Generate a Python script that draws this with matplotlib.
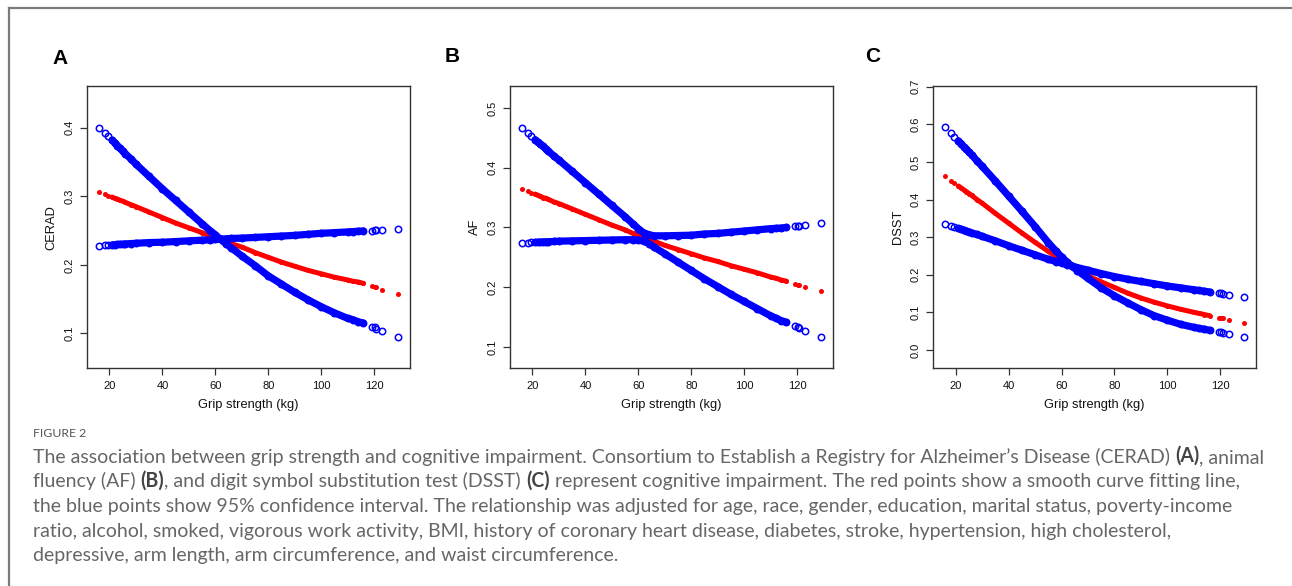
import matplotlib
matplotlib.use("Agg")
import matplotlib.pyplot as plt
from matplotlib.lines import Line2D

# grip strength values where the fitted curve is evaluated
grip = [16, 18.2, 19.5, 21, 22, 23, 24, 25, 26, 28, 30, 35, 40, 45, 50, 55, 58, 60,
        62, 64, 66, 70, 75, 80, 85, 90, 95, 100, 105, 110, 112, 114, 116,
        119.4, 120.2, 120.9, 123.2, 129]

# A: CERAD
cerad_fit = [0.307, 0.303, 0.301, 0.299, 0.297, 0.296, 0.294, 0.293, 0.291, 0.288, 0.285,
             0.277, 0.269, 0.261, 0.254, 0.247, 0.242, 0.240, 0.237, 0.234, 0.231, 0.226,
             0.218, 0.211, 0.204, 0.198, 0.192, 0.187, 0.182, 0.178, 0.176, 0.175, 0.173,
             0.169, 0.168, 0.167, 0.164, 0.158]
cerad_hi = [0.400, 0.392, 0.388, 0.382, 0.378, 0.374, 0.370, 0.366, 0.362, 0.355, 0.347,
            0.329, 0.311, 0.294, 0.277, 0.260, 0.250, 0.244, 0.237, 0.231, 0.225, 0.213,
            0.199, 0.184, 0.172, 0.160, 0.149, 0.139, 0.130, 0.122, 0.120, 0.117, 0.115,
            0.110, 0.109, 0.107, 0.104, 0.095]
cerad_lo = [0.228, 0.2285, 0.229, 0.229, 0.2295, 0.2297, 0.230, 0.230, 0.2305, 0.231, 0.2315,
            0.2325, 0.233, 0.234, 0.235, 0.236, 0.2365, 0.237, 0.2375, 0.238, 0.2385, 0.239,
            0.240, 0.241, 0.242, 0.243, 0.2445, 0.246, 0.247, 0.248, 0.2485, 0.249, 0.2495,
            0.250, 0.2505, 0.251, 0.2515, 0.253]

# B: AF
af_fit = [0.365, 0.361, 0.358, 0.356, 0.354, 0.352, 0.350, 0.349, 0.347, 0.343, 0.340,
          0.331, 0.322, 0.313, 0.304, 0.296, 0.290, 0.287, 0.283, 0.280, 0.277, 0.270,
          0.263, 0.256, 0.249, 0.243, 0.236, 0.230, 0.224, 0.217, 0.215, 0.212, 0.210,
          0.205, 0.204, 0.203, 0.201, 0.194]
af_hi = [0.466, 0.458, 0.453, 0.447, 0.443, 0.440, 0.436, 0.432, 0.428, 0.420, 0.413,
         0.394, 0.375, 0.356, 0.337, 0.318, 0.306, 0.298, 0.291, 0.288, 0.286, 0.286,
         0.2865, 0.287, 0.289, 0.290, 0.292, 0.294, 0.296, 0.298, 0.2985, 0.299, 0.300,
         0.302, 0.302, 0.303, 0.304, 0.307]
af_lo = [0.274, 0.2745, 0.275, 0.275, 0.2752, 0.2755, 0.2757, 0.276, 0.276, 0.2765, 0.277,
         0.2775, 0.278, 0.2785, 0.279, 0.2795, 0.2795, 0.279, 0.277, 0.273, 0.267, 0.256,
         0.242, 0.228, 0.214, 0.201, 0.188, 0.176, 0.164, 0.152, 0.148, 0.144, 0.141,
         0.135, 0.133, 0.132, 0.127, 0.117]

# C: DSST
dsst_fit = [0.462, 0.450, 0.443, 0.436, 0.431, 0.426, 0.421, 0.416, 0.411, 0.400, 0.390,
            0.363, 0.337, 0.311, 0.286, 0.262, 0.248, 0.238, 0.229, 0.220, 0.212, 0.197,
            0.181, 0.166, 0.151, 0.138, 0.127, 0.117, 0.108, 0.100, 0.097, 0.094, 0.091,
            0.086, 0.085, 0.084, 0.080, 0.072]
dsst_hi = [0.592, 0.577, 0.567, 0.556, 0.549, 0.541, 0.534, 0.526, 0.519, 0.503, 0.488,
           0.449, 0.409, 0.369, 0.328, 0.285, 0.262, 0.247, 0.234, 0.222, 0.211, 0.190,
           0.165, 0.144, 0.125, 0.107, 0.091, 0.079, 0.068, 0.060, 0.057, 0.055, 0.052,
           0.048, 0.047, 0.046, 0.043, 0.035]
dsst_lo = [0.335, 0.330, 0.327, 0.323, 0.321, 0.318, 0.316, 0.314, 0.311, 0.307, 0.302,
           0.290, 0.277, 0.265, 0.253, 0.241, 0.235, 0.231, 0.227, 0.223, 0.219, 0.212,
           0.203, 0.195, 0.188, 0.182, 0.176, 0.170, 0.165, 0.160, 0.158, 0.156, 0.154,
           0.150, 0.150, 0.149, 0.147, 0.142]

panels = [
    ("A", "CERAD", cerad_fit, cerad_hi, cerad_lo, [0.1, 0.2, 0.3, 0.4], (0.049, 0.461)),
    ("B", "AF", af_fit, af_hi, af_lo, [0.1, 0.2, 0.3, 0.4, 0.5], (0.064, 0.537)),
    ("C", "DSST", dsst_fit, dsst_hi, dsst_lo, [0.0, 0.1, 0.2, 0.3, 0.4, 0.5, 0.6, 0.7], (-0.049, 0.702)),
]
x_ticks = [20, 40, 60, 80, 100, 120]

caption_lines = [
    [("The association between grip strength and cognitive impairment. Consortium to Establish a Registry for Alzheimer\u2019s Disease (CERAD) ", False),
     ("(A)", True), (", animal", False)],
    [("fluency (AF) ", False), ("(B)", True), (", and digit symbol substitution test (DSST) ", False),
     ("(C)", True), (" represent cognitive impairment. The red points show a smooth curve fitting line,", False)],
    [("the blue points show 95% confidence interval. The relationship was adjusted for age, race, gender, education, marital status, poverty-income", False)],
    [("ratio, alcohol, smoked, vigorous work activity, BMI, history of coronary heart disease, diabetes, stroke, hypertension, high cholesterol,", False)],
    [("depressive, arm length, arm circumference, and waist circumference.", False)],
]

plt.rcParams['font.family'] = ['Liberation Sans', 'DejaVu Sans']

W, H = 1292, 586
fig = plt.figure(figsize=(W / 100, H / 100), dpi=100)
fig.patch.set_facecolor('white')

# dense part of the curve (drawn as a band), sparse ends as single markers
dense = [i for i, g in enumerate(grip) if 21 <= g <= 116]

lefts = [87, 510, 933.3]
for (letter, ylab, fit, hi, lo, yt, ylim), lx in zip(panels, lefts):
    ax = fig.add_axes([lx / W, (H - 368.3) / H, 322.7 / W, 282.3 / H])
    xs = [grip[i] for i in dense]
    ax.plot(xs, [fit[i] for i in dense], color='#ff0000', lw=3.6, solid_capstyle='round', zorder=2)
    ax.plot(grip, fit, 'o', color='#ff0000', ms=3.6, mew=0, zorder=2)
    for band in (lo, hi):
        ax.plot(xs, [band[i] for i in dense], color='#0000ff', lw=5.2, solid_capstyle='round', zorder=3)
        ax.plot(grip, band, 'o', mfc='none', mec='#0000ff', ms=4.6, mew=1.1, zorder=3)
    ax.set_xlim(11.5, 133.5)
    ax.set_ylim(*ylim)
    ax.set_xticks(x_ticks)
    ax.set_yticks(yt)
    ax.set_yticklabels(['%.1f' % v for v in yt], rotation=90, va='center')
    for s in ax.spines.values():
        s.set_color('#333333')
        s.set_linewidth(1.0)
    ax.tick_params(direction='out', length=5, width=0.9, color='#333333', labelsize=8,
                   labelcolor='#111111', pad=4)
    ax.set_xlabel('Grip strength (kg)', fontsize=9.3, color='#111111')
    ax.set_ylabel(ylab, fontsize=9.3, color='#111111')
    ax.xaxis.set_label_coords(0.5, -0.13)
    ax.xaxis.label.set_va('center')
    ax.yaxis.set_label_coords(-0.11, 0.5)
    ax.yaxis.label.set_va('center')

fig.text(60 / W, 1 - 58 / H, 'A', fontsize=15, fontweight='bold', ha='center', va='center')
fig.text(451.7 / W, 1 - 56.7 / H, 'B', fontsize=15, fontweight='bold', ha='center', va='center')
fig.text(872.7 / W, 1 - 56.7 / H, 'C', fontsize=15, fontweight='bold', ha='center', va='center')

# frame around the figure block (left and top only)
fig.add_artist(Line2D([9 / W, 9 / W], [0, 1 - 8 / H], color='#7a7a7a', lw=1.6))
fig.add_artist(Line2D([9 / W, 1], [1 - 8 / H, 1 - 8 / H], color='#7a7a7a', lw=1.6))

# caption
cap = fig.add_axes([0, 0, 1, 1])
cap.axis('off')
cap.set_xlim(0, W)
cap.set_ylim(H, 0)
cap_font = ['Lato', 'DejaVu Sans']
cap.text(33, 437, 'FIGURE 2', fontsize=8.8, color='#555555', family=cap_font, va='baseline')
base_y = 466
for k, parts in enumerate(caption_lines):
    prev = None
    for txt, bold in parts:
        kw = dict(fontsize=14.05, family=cap_font, va='bottom', ha='left',
                  color='#444444' if bold else '#666666',
                  fontweight='bold' if bold else 'normal')
        if prev is None:
            prev = cap.text(33, base_y + k * 24.5, txt, **kw)
        else:
            prev = cap.annotate(txt, xy=(1, 0), xycoords=prev, **kw)

fig.savefig('out.png', dpi=100)
